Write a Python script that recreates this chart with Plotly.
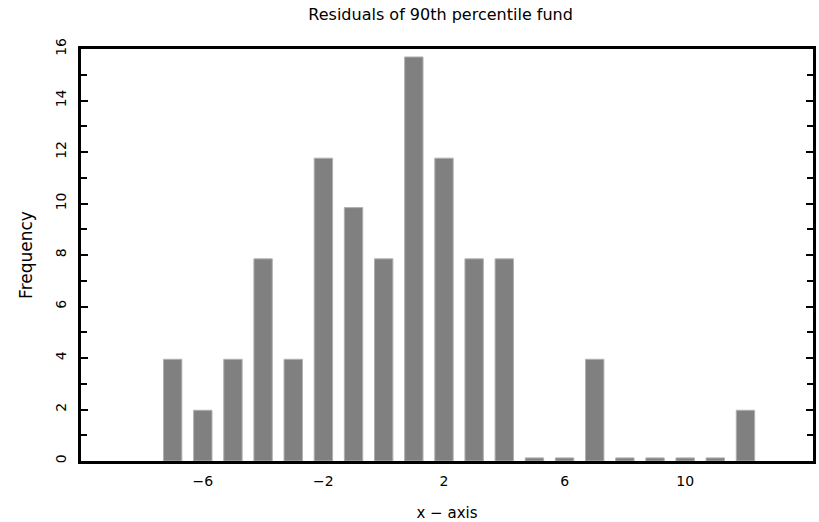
import plotly.graph_objects as go

# Residual bins (bin centre) and their frequencies
bin_centres = [-7, -6, -5, -4, -3, -2, -1, 0, 1, 2, 3, 4, 5, 6, 7, 8, 9, 10, 11, 12]
frequencies = [3.95, 1.97, 3.95, 7.85, 3.95, 11.76, 9.84, 7.85, 15.69, 11.76,
               7.85, 7.85, 0.12, 0.12, 3.95, 0.12, 0.12, 0.12, 0.12, 1.97]

x_tick_values = [-6, -2, 2, 6, 10]
y_tick_values = [0, 2, 4, 6, 8, 10, 12, 14, 16]

title_text = "Residuals of 90th percentile fund"
x_title = "x \u2212 axis"
y_title = "Frequency"

font_family = "DejaVu Sans"

fig = go.Figure(
    go.Bar(
        x=bin_centres,
        y=frequencies,
        width=0.61,
        marker=dict(color="#808080", line=dict(color="#b0b0b0", width=1)),
    )
)

fig.update_layout(
    width=819,
    height=522,
    margin=dict(l=81, r=3, t=49, b=60),
    paper_bgcolor="white",
    plot_bgcolor="white",
    showlegend=False,
    font=dict(family=font_family, size=14, color="black"),
    title=dict(
        text=title_text,
        x=0.538,
        xanchor="center",
        y=0.972,
        yanchor="middle",
        font=dict(family=font_family, size=16, color="black"),
    ),
)

fig.update_xaxes(
    range=[-10.04, 14.24],
    tickvals=x_tick_values,
    ticks="",
    showgrid=False,
    zeroline=False,
    showline=True,
    linecolor="black",
    linewidth=3,
    mirror=True,
    tickfont=dict(size=14),
    ticklabelstandoff=5,
    title=dict(text=x_title, standoff=20, font=dict(size=15)),
)

fig.update_yaxes(
    range=[0, 16],
    tickvals=y_tick_values,
    ticks="inside",
    ticklen=7,
    tickwidth=2,
    tickcolor="black",
    tickangle=-90,
    minor=dict(dtick=1, ticks="inside", ticklen=6, tickwidth=2, tickcolor="black"),
    showgrid=False,
    zeroline=False,
    showline=True,
    linecolor="black",
    linewidth=3,
    mirror="ticks",
    tickfont=dict(size=14),
    ticklabelstandoff=6,
    title=dict(text=y_title, standoff=17, font=dict(size=17)),
)

fig.write_html("out.html")
